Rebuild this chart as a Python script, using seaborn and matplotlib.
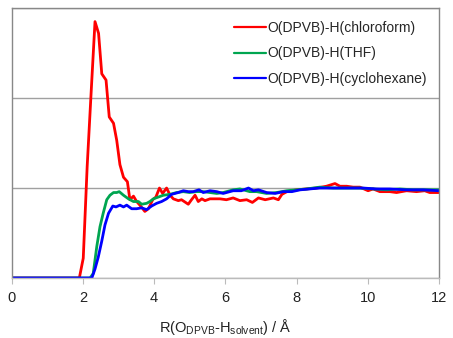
import matplotlib
matplotlib.use("Agg")
import matplotlib.pyplot as plt
import seaborn as sns
import pandas as pd

sns.set_theme(style="white")
plt.rcParams['font.family'] = ['Liberation Sans', 'DejaVu Sans']

series_names = ["O(DPVB)-H(chloroform)", "O(DPVB)-H(THF)", "O(DPVB)-H(cyclohexane)"]

x_chloroform = [0, 1.9, 2.01, 2.12, 2.22, 2.34, 2.44, 2.53, 2.65, 2.74, 2.86, 2.95, 3.04, 3.14, 3.25,
                3.32, 3.42, 3.51, 3.60, 3.74, 3.84, 3.96, 4.05, 4.15, 4.24, 4.35, 4.45, 4.54, 4.68,
                4.77, 4.96, 5.05, 5.15, 5.24, 5.34, 5.43, 5.57, 5.71, 5.85, 6.03, 6.22, 6.41, 6.60,
                6.76, 6.93, 7.12, 7.35, 7.49, 7.59, 7.73, 8.0, 8.28, 8.56, 8.84, 9.08, 9.22, 9.41,
                9.59, 9.78, 10.01, 10.15, 10.34, 10.62, 10.81, 11.09, 11.37, 11.6, 11.74, 12.0]
y_chloroform = [0, 0, 0.22, 1.24, 1.98, 2.85, 2.72, 2.27, 2.20, 1.79, 1.72, 1.53, 1.26, 1.12, 1.07,
                0.87, 0.91, 0.85, 0.81, 0.74, 0.77, 0.87, 0.90, 1.0, 0.94, 1.0, 0.92, 0.88, 0.86,
                0.87, 0.82, 0.87, 0.92, 0.85, 0.88, 0.86, 0.88, 0.88, 0.88, 0.87, 0.89, 0.86, 0.87,
                0.84, 0.89, 0.87, 0.89, 0.87, 0.93, 0.96, 0.98, 0.99, 1.0, 1.02, 1.05, 1.02, 1.02,
                1.01, 1.01, 0.97, 0.99, 0.96, 0.96, 0.95, 0.97, 0.96, 0.97, 0.95, 0.95]

x_thf = [0, 2.2, 2.29, 2.39, 2.48, 2.57, 2.67, 2.76, 2.86, 2.95, 3.02, 3.14, 3.28, 3.42, 3.56, 3.65,
         3.79, 3.88, 3.98, 4.12, 4.26, 4.45, 4.63, 4.82, 5.0, 5.19, 5.38, 5.57, 5.76, 5.94, 6.22,
         6.41, 6.69, 6.88, 7.16, 7.44, 7.73, 8.0, 8.28, 8.65, 9.03, 9.41, 9.78, 10.15, 10.53,
         10.9, 11.28, 11.65, 12.0]
y_thf = [0, 0, 0.05, 0.35, 0.57, 0.72, 0.87, 0.92, 0.95, 0.95, 0.96, 0.92, 0.88, 0.85, 0.85, 0.82,
         0.83, 0.85, 0.88, 0.90, 0.92, 0.93, 0.95, 0.96, 0.95, 0.96, 0.96, 0.95, 0.94, 0.95, 0.98,
         0.99, 0.96, 0.96, 0.94, 0.95, 0.97, 0.98, 0.99, 1.01, 1.0, 1.0, 1.0, 0.99, 0.98,
         0.99, 0.98, 0.98, 0.98]

x_cyclohexane = [0, 2.25, 2.34, 2.43, 2.53, 2.62, 2.72, 2.84, 2.93, 3.04, 3.14, 3.23, 3.37, 3.51,
                 3.65, 3.79, 3.93, 4.07, 4.21, 4.35, 4.49, 4.68, 4.82, 4.96, 5.1, 5.26, 5.38, 5.57,
                 5.76, 5.94, 6.22, 6.45, 6.65, 6.79, 6.93, 7.16, 7.40, 7.63, 7.87, 8.1, 8.37, 8.65,
                 8.93, 9.22, 9.59, 9.87, 10.24, 10.62, 11.09, 11.56, 12.0]
y_cyclohexane = [0, 0, 0.10, 0.23, 0.41, 0.59, 0.72, 0.80, 0.79, 0.81, 0.79, 0.81, 0.77, 0.77,
                 0.78, 0.76, 0.80, 0.83, 0.85, 0.88, 0.93, 0.95, 0.97, 0.96, 0.96, 0.98, 0.95, 0.97,
                 0.96, 0.94, 0.97, 0.97, 1.0, 0.97, 0.98, 0.95, 0.94, 0.96, 0.96, 0.98, 0.99, 1.0,
                 1.0, 1.0, 1.0, 1.0, 0.99, 0.99, 0.98, 0.98, 0.97]

x_ticks = [0, 2, 4, 6, 8, 10, 12]
colors = ["#FF0000", "#00A550", "#0000FF"]

frames = []
for name, xs, ys in zip(series_names,
                        [x_chloroform, x_thf, x_cyclohexane],
                        [y_chloroform, y_thf, y_cyclohexane]):
    frames.append(pd.DataFrame({"r": xs, "g": ys, "series": name}))
df = pd.concat(frames, ignore_index=True)

fig = plt.figure(figsize=(4.53, 3.38), dpi=100)
ax = fig.add_axes([0.0258, 0.1775, 0.969 - 0.0258, 0.976 - 0.1775])

sns.lineplot(data=df, x="r", y="g", hue="series", hue_order=series_names,
             palette=colors, linewidth=2.0, sort=False, estimator=None, ax=ax)

ax.set_xlim(0, 12)
ax.set_ylim(0, 3)
ax.set_xticks(x_ticks)
ax.set_xticklabels([str(t) for t in x_ticks], fontsize=10.5, color="#222222")
ax.set_yticks([0, 1, 2, 3])
ax.set_yticklabels([])
ax.tick_params(axis="y", length=0)
ax.tick_params(axis="x", length=4, width=0.8, color="#BBBBBB", direction="out", pad=5, bottom=True)
ax.yaxis.grid(True, color="#A0A0A0", linewidth=1.0)
ax.xaxis.grid(False)
ax.set_axisbelow(True)
for s in ax.spines.values():
    s.set_color("#888888")
    s.set_linewidth(1.0)
ax.spines["bottom"].set_color("#BBBBBB")

ax.set_xlabel(r"R(O$_{\mathregular{DPVB}}$-H$_{\mathregular{solvent}}$) / Å", fontsize=10.5,
              color="#222222", labelpad=9)
ax.set_ylabel("")

leg = ax.legend(loc="upper right", frameon=False, fontsize=10, handlelength=2.3,
                handletextpad=0.05, labelspacing=0.85, borderaxespad=0.5)
for line in leg.get_lines():
    line.set_linewidth(1.6)

fig.savefig("out.png", dpi=100)
